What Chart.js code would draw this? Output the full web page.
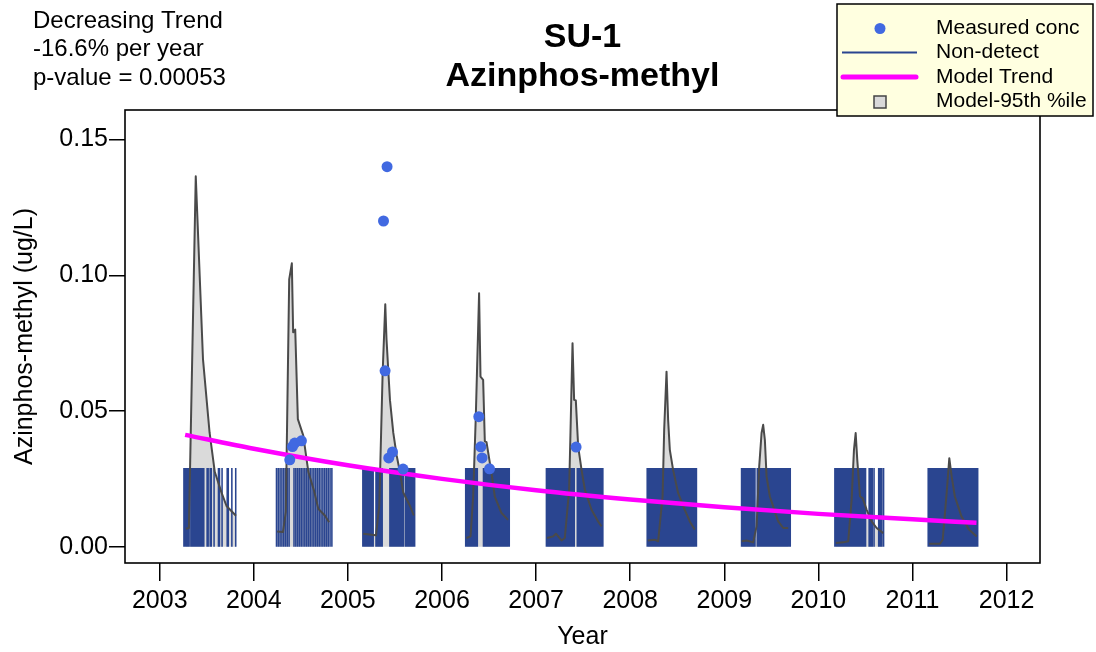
<!DOCTYPE html>
<html>
<head>
<meta charset="utf-8">
<title>SU-1 Azinphos-methyl</title>
<script src="https://cdn.jsdelivr.net/npm/chart.js@4.4.1/dist/chart.umd.min.js"></script>
<style>
  html, body { margin: 0; padding: 0; background: #fff; }
  #trendChart { display: block; }
</style>
</head>
<body>
<canvas id="trendChart" width="1096" height="652"></canvas>
<script>
// axis ticks
const xTicks = [2003, 2004, 2005, 2006, 2007, 2008, 2009, 2010, 2011, 2012];
const yTicks = [0, 0.05, 0.10, 0.15];

// non-detect samples (day of year) drawn up to the detection limit
const detectLimit = 0.029;
const seasonYears = [2003, 2004, 2005, 2006, 2007, 2008, 2009, 2010, 2011];
const nonDetectDays = [
    [94, 98, 102, 106, 110, 114, 121, 125, 129, 133, 138, 142, 146, 150, 154, 158, 163, 167, 171, 184, 188, 196, 200, 211, 228, 232, 242, 262, 266, 280, 295],
    [88, 95, 102, 109, 116, 123, 130, 137, 156, 163, 170, 177, 184, 191, 198, 205, 212, 219, 226, 233, 240, 247, 254, 261, 268, 275, 282, 289, 296, 303],
    [58, 64, 70, 76, 82, 88, 94, 98, 109, 115, 121, 127, 133, 163, 169, 175, 180, 186, 192, 198, 204, 210, 215, 223, 229, 235, 241, 247, 253, 259],
    [92, 98, 104, 110, 116, 122, 128, 134, 137, 161, 167, 173, 179, 185, 191, 197, 203, 209, 215, 221, 227, 233, 239, 245, 251, 257, 261],
    [40, 46, 52, 58, 64, 70, 76, 82, 88, 94, 100, 106, 112, 118, 124, 130, 136, 142, 148, 160, 166, 172, 178, 184, 190, 196, 202, 208, 214, 220, 226, 232, 238, 244, 250, 256, 259],
    [66, 72, 78, 84, 90, 96, 102, 108, 114, 120, 126, 132, 138, 144, 150, 156, 162, 168, 174, 180, 186, 192, 198, 204, 210, 216, 222, 228, 234, 240, 246, 252, 257],
    [67, 73, 79, 85, 91, 97, 103, 109, 115, 119, 128, 133, 139, 145, 151, 157, 163, 169, 175, 181, 187, 193, 199, 205, 211, 217, 223, 229, 235, 241, 247, 253, 256],
    [64, 70, 76, 82, 88, 94, 100, 106, 112, 118, 124, 130, 136, 142, 148, 154, 160, 166, 172, 178, 183, 197, 203, 209, 216, 234, 240, 246, 253],
    [61, 67, 73, 79, 85, 91, 97, 103, 109, 115, 121, 127, 133, 139, 145, 151, 157, 163, 169, 175, 181, 187, 193, 199, 205, 211, 217, 223, 229, 235, 241, 247, 253]
];

// measured concentrations
const measuredDates = [2004.382, 2004.411, 2004.435, 2004.506,
    2005.378, 2005.416, 2005.395, 2005.434, 2005.474, 2005.586,
    2006.391, 2006.412, 2006.426, 2006.505, 2007.425];
const measuredConc = [0.032, 0.0369, 0.0382, 0.039,
    0.12, 0.14, 0.0648, 0.0327, 0.0349, 0.0286,
    0.0479, 0.0368, 0.0327, 0.0287, 0.0367];

// model trend
const trendDates = [2003.27, 2004, 2005, 2006, 2007, 2008, 2009, 2010, 2011, 2011.68];
const trendConc = [0.0412, 0.0361, 0.0300, 0.0250, 0.0208, 0.0174, 0.0145, 0.0121, 0.0101, 0.0088];

// model 95th percentile, one list per season
const model95Dates = [
    [2003.277, 2003.31, 2003.383, 2003.46, 2003.53, 2003.585, 2003.656, 2003.71, 2003.81],
    [2004.248, 2004.31, 2004.34, 2004.376, 2004.404, 2004.418, 2004.44, 2004.468, 2004.525, 2004.58, 2004.64, 2004.685, 2004.755, 2004.80],
    [2005.163, 2005.298, 2005.333, 2005.369, 2005.397, 2005.41, 2005.447, 2005.482, 2005.518, 2005.553, 2005.588, 2005.66, 2005.70],
    [2006.26, 2006.303, 2006.331, 2006.359, 2006.394, 2006.409, 2006.437, 2006.455, 2006.473, 2006.526, 2006.561, 2006.632, 2006.702],
    [2007.117, 2007.181, 2007.21, 2007.27, 2007.305, 2007.351, 2007.366, 2007.387, 2007.404, 2007.422, 2007.447, 2007.483, 2007.518, 2007.589, 2007.659, 2007.695],
    [2008.187, 2008.258, 2008.297, 2008.344, 2008.361, 2008.386, 2008.403, 2008.421, 2008.456, 2008.509, 2008.58, 2008.633, 2008.686],
    [2009.184, 2009.237, 2009.307, 2009.343, 2009.371, 2009.396, 2009.413, 2009.431, 2009.449, 2009.484, 2009.537, 2009.573, 2009.626, 2009.679],
    [2010.186, 2010.264, 2010.317, 2010.353, 2010.378, 2010.396, 2010.413, 2010.442, 2010.47, 2010.513, 2010.566, 2010.619, 2010.689],
    [2011.178, 2011.292, 2011.321, 2011.363, 2011.391, 2011.416, 2011.45, 2011.52, 2011.60, 2011.682]
];
const model95Conc = [
    [0.0066, 0.0069, 0.1365, 0.069, 0.042, 0.0276, 0.020, 0.015, 0.0114],
    [0.0056, 0.0054, 0.0128, 0.0985, 0.1044, 0.079, 0.080, 0.047, 0.041, 0.0275, 0.0206, 0.014, 0.0115, 0.009],
    [0.0048, 0.0042, 0.015, 0.064, 0.0893, 0.0765, 0.054, 0.042, 0.0336, 0.0275, 0.020, 0.015, 0.0115],
    [0.0032, 0.0038, 0.0185, 0.048, 0.0934, 0.0627, 0.0615, 0.0388, 0.0385, 0.0271, 0.0185, 0.0124, 0.0099],
    [0.0032, 0.0038, 0.0048, 0.0023, 0.0032, 0.021, 0.0431, 0.075, 0.0541, 0.0539, 0.0369, 0.0283, 0.021, 0.0136, 0.0093, 0.0075],
    [0.0023, 0.0026, 0.0020, 0.0185, 0.0431, 0.0645, 0.0467, 0.0357, 0.0283, 0.0198, 0.0136, 0.0093, 0.0063],
    [0.0020, 0.0023, 0.0016, 0.0075, 0.0296, 0.0419, 0.0449, 0.0394, 0.0259, 0.0185, 0.0130, 0.0093, 0.0069, 0.0069],
    [0.0014, 0.0016, 0.0020, 0.0173, 0.0357, 0.0419, 0.0320, 0.0185, 0.0179, 0.0136, 0.0093, 0.0069, 0.0050],
    [0.0011, 0.0011, 0.0026, 0.0198, 0.0326, 0.0259, 0.0185, 0.0112, 0.0063, 0.0038]
];

const FONT = "'Liberation Sans', Arial, sans-serif";

// build the point lists for the library
let modelPoints = [];
model95Dates.forEach((dates, i) => {
    dates.forEach((d, j) => modelPoints.push({ x: d, y: model95Conc[i][j] }));
    modelPoints.push({ x: dates[dates.length - 1], y: null }); // break between seasons
});

let nonDetectPoints = [];
nonDetectDays.forEach((days, i) => {
    days.forEach(day => {
        let d = seasonYears[i] + day / 365.25;
        nonDetectPoints.push({ x: d, y: 0 }, { x: d, y: detectLimit }, { x: d, y: null });
    });
});

let trendPoints = trendDates.map((d, i) => ({ x: d, y: trendConc[i] }));
let measuredPoints = measuredDates.map((d, i) => ({ x: d, y: measuredConc[i] }));

// R style decorations: box, title, trend note, legend
const rDecor = {
    id: 'rDecor',
    afterDraw(chart) {
        const ctx = chart.ctx;
        const area = chart.chartArea;
        ctx.save();

        // plot box
        ctx.strokeStyle = '#000';
        ctx.lineWidth = 1.6;
        ctx.strokeRect(area.left, area.top, area.right - area.left, area.bottom - area.top);

        // trend note
        ctx.fillStyle = '#000';
        ctx.textAlign = 'left';
        ctx.textBaseline = 'middle';
        ctx.font = '24px ' + FONT;
        ctx.fillText('Decreasing Trend', 33, 21);
        ctx.fillText('-16.6% per year', 33, 49);
        ctx.fillText('p-value = 0.00053', 33, 78);

        // title
        ctx.textAlign = 'center';
        ctx.font = 'bold 34px ' + FONT;
        let cx = (area.left + area.right) / 2;
        ctx.fillText('SU-1', cx, 38);
        ctx.fillText('Azinphos-methyl', cx, 77);

        // legend
        ctx.fillStyle = '#ffffe0';
        ctx.fillRect(837, 4, 256, 112);
        ctx.strokeStyle = '#000';
        ctx.lineWidth = 1.5;
        ctx.strokeRect(837, 4, 256, 112);

        ctx.fillStyle = '#4169e1';
        ctx.beginPath();
        ctx.arc(880, 28.5, 5.5, 0, Math.PI * 2);
        ctx.fill();

        ctx.strokeStyle = '#2a4590';
        ctx.lineWidth = 2;
        ctx.beginPath();
        ctx.moveTo(842, 52.5);
        ctx.lineTo(917, 52.5);
        ctx.stroke();

        ctx.strokeStyle = '#ff00ff';
        ctx.lineWidth = 5;
        ctx.lineCap = 'round';
        ctx.beginPath();
        ctx.moveTo(843, 77);
        ctx.lineTo(916, 77);
        ctx.stroke();

        ctx.fillStyle = '#d9d9d9';
        ctx.fillRect(874, 96, 12, 12);
        ctx.strokeStyle = '#444';
        ctx.lineWidth = 1.5;
        ctx.strokeRect(874, 96, 12, 12);

        ctx.fillStyle = '#000';
        ctx.textAlign = 'left';
        ctx.font = '21px ' + FONT;
        ctx.fillText('Measured conc', 936, 28.5);
        ctx.fillText('Non-detect', 936, 52.5);
        ctx.fillText('Model Trend', 936, 77);
        ctx.fillText('Model-95th %ile', 936, 101.5);
        ctx.restore();
    }
};

const ctx = document.getElementById('trendChart').getContext('2d');
window.trendChartInstance = new Chart(ctx, {
    type: 'line',
    data: {
        datasets: [
            {
                label: 'Measured conc',
                data: measuredPoints,
                showLine: false,
                pointRadius: 5.5,
                pointBackgroundColor: '#4169e1',
                pointBorderWidth: 0,
                order: 1
            },
            {
                label: 'Model Trend',
                data: trendPoints,
                borderColor: '#ff00ff',
                borderWidth: 4.5,
                cubicInterpolationMode: 'monotone',
                pointRadius: 0,
                fill: false,
                order: 2
            },
            {
                label: 'Model-95th %ile line',
                data: modelPoints,
                borderColor: '#4a4a4a',
                borderWidth: 2,
                borderJoinStyle: 'round',
                pointRadius: 0,
                fill: false,
                spanGaps: false,
                order: 3
            },
            {
                label: 'Non-detect',
                data: nonDetectPoints,
                borderColor: '#2a4590',
                borderWidth: 1.55,
                borderCapStyle: 'butt',
                pointRadius: 0,
                fill: false,
                spanGaps: false,
                order: 4
            },
            {
                label: 'Model-95th %ile',
                data: modelPoints,
                borderColor: 'rgba(0,0,0,0)',
                borderWidth: 0,
                backgroundColor: '#dadada',
                pointRadius: 0,
                fill: 'origin',
                spanGaps: false,
                order: 5
            }
        ]
    },
    options: {
        responsive: false,
        devicePixelRatio: 1,
        animation: false,
        layout: { padding: { left: 0, top: 110, right: 56, bottom: 0 } },
        plugins: {
            legend: { display: false },
            tooltip: { enabled: false },
            title: { display: false }
        },
        scales: {
            x: {
                type: 'linear',
                min: 2002.631,
                max: 2012.355,
                afterBuildTicks: scale => { scale.ticks = xTicks.map(v => ({ value: v })); },
                afterFit: scale => { scale.height = 89; },
                border: { display: false },
                grid: { drawOnChartArea: false, drawTicks: true, tickLength: 18, color: '#000', lineWidth: 1.5 },
                ticks: {
                    color: '#000',
                    font: { family: FONT, size: 25 },
                    padding: 5,
                    maxRotation: 0,
                    autoSkip: false,
                    callback: v => String(v)
                },
                title: { display: true, text: 'Year', color: '#000', font: { family: FONT, size: 25 }, padding: { top: 0, bottom: 0 } }
            },
            y: {
                type: 'linear',
                min: -0.006,
                max: 0.1609,
                afterBuildTicks: scale => { scale.ticks = yTicks.map(v => ({ value: v })); },
                afterFit: scale => { scale.width = 125; },
                border: { display: false },
                grid: { drawOnChartArea: false, drawTicks: true, tickLength: 16, color: '#000', lineWidth: 1.5 },
                ticks: {
                    color: '#000',
                    font: { family: FONT, size: 25 },
                    padding: 1,
                    autoSkip: false,
                    callback: v => v.toFixed(2)
                },
                title: { display: true, text: 'Azinphos-methyl (ug/L)', color: '#000', font: { family: FONT, size: 25 }, padding: { top: 10, bottom: 0 } }
            }
        }
    },
    plugins: [rDecor]
});
</script>
</body>
</html>
